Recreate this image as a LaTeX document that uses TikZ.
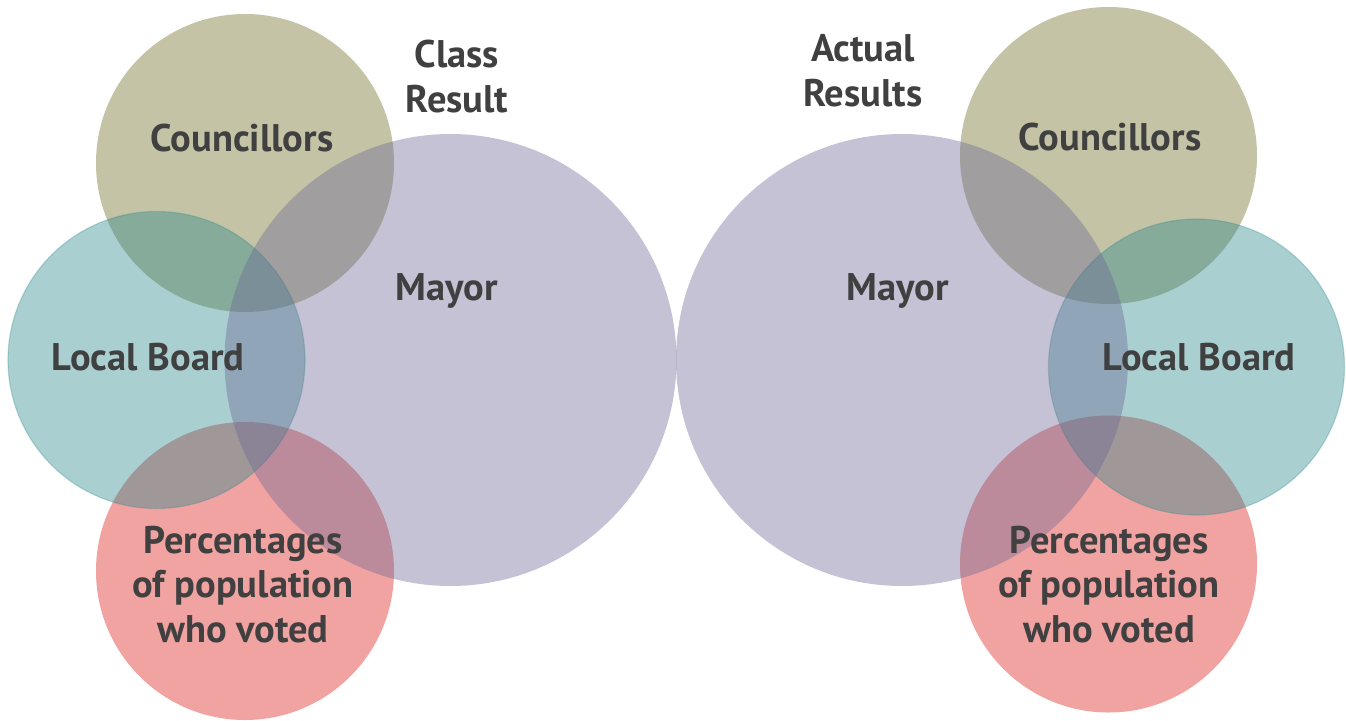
\documentclass[tikz,border=0pt]{standalone}
\usepackage{fontspec}
\setmainfont{PT Sans}
\definecolor{olivec}{RGB}{107,105,30}
\definecolor{tealc}{RGB}{40,135,138}
\definecolor{pinkc}{RGB}{220,25,22}
\definecolor{mayorc}{RGB}{108,102,148}
\definecolor{txt}{RGB}{64,64,64}
\tikzset{
  venn/.style={circle, inner sep=0pt, fill opacity=0.4, draw=none},
  lb/.style={venn, draw=tealc, draw opacity=0.28, line width=1.2pt},
  lbl/.style={text=txt, font=\fontsize{38.5}{44.5}\selectfont\bfseries, align=center, inner sep=0pt, anchor=base},
}
\begin{document}
\begin{tikzpicture}[x=1pt,y=-1pt]
\useasboundingbox (0,0) rectangle (1346,720);
% left set
\node[venn, fill=olivec, minimum size=298pt] (lc) at (245,163) {};
\node[venn, fill=pinkc, minimum size=298pt] (lp) at (245,571) {};
\node[lb, fill=tealc, minimum size=297pt] (ll) at (156.5,360) {};
\node[venn, fill=mayorc, minimum size=452pt] (lm) at (450.5,360) {};
% right set
\node[venn, fill=olivec, minimum size=297pt] (rc) at (1108.5,155.5) {};
\node[venn, fill=pinkc, minimum size=297pt] (rp) at (1108.5,564) {};
\node[lb, fill=tealc, minimum size=296pt] (rl) at (1196.5,367) {};
\node[venn, fill=mayorc, minimum size=452pt] (rm) at (902,360) {};
% labels (multi-line: base = last line's baseline)
\node[lbl] (t1) at (457,112) {Class\\Result};
\node[lbl] (t2) at (863,106) {Actual\\Results};
\node[lbl] (lct) at (242,151) {Councillors};
\node[lbl] (lmt) at (447,300) {Mayor};
\node[lbl] (llt) at (148,370) {Local Board};
\node[lbl] (lpt) at (243,642) {Percentages\\of population\\who voted};
\node[lbl] (rct) at (1110,150) {Councillors};
\node[lbl] (rmt) at (898,300) {Mayor};
\node[lbl] (rlt) at (1199,370) {Local Board};
\node[lbl] (rpt) at (1109,642) {Percentages\\of population\\who voted};
\end{tikzpicture}
\end{document}
